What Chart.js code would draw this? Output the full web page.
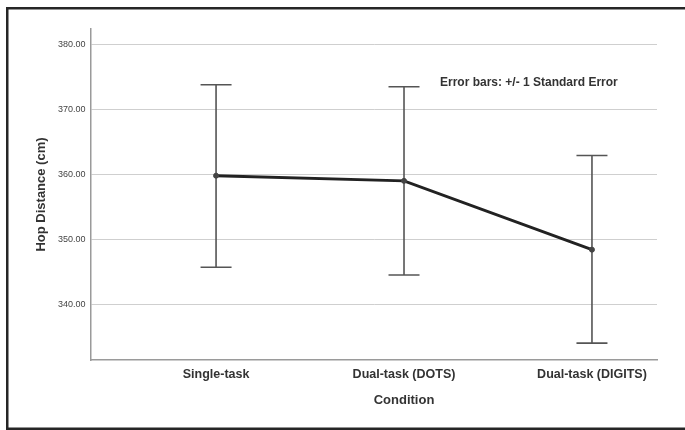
<!DOCTYPE html>
<html>
<head>
<meta charset="utf-8">
<script src="https://cdn.jsdelivr.net/npm/chart.js@4.4.1/dist/chart.umd.min.js"></script>
<style>
  body { margin: 0; background: #fff; }
  #wrap { width: 685px; height: 430px; }
</style>
</head>
<body>
<div id="wrap"><canvas id="hopChart" width="685" height="430"></canvas></div>
<script>
'use strict';

// data
let conditions = ['Single-task', 'Dual-task (DOTS)', 'Dual-task (DIGITS)'];
let meanHop = [359.8, 359.0, 348.4];
let upperSE = [373.8, 373.5, 362.9];
let lowerSE = [345.7, 344.5, 334.0];
let yTicks = [340, 350, 360, 370, 380];

let fontName = '"Liberation Sans", Arial, sans-serif';

// line points as x/y pairs so the x scale can be linear
let points = [];
for (let i = 0; i < meanHop.length; i++) {
    points.push({ x: i, y: meanHop[i] });
}

// error bars, frame and the extra texts
let extras = {
    id: 'extras',
    beforeDatasetsDraw(chart) {
        let ctx = chart.ctx;
        let xs = chart.scales.x;
        let ys = chart.scales.y;
        ctx.save();
        ctx.strokeStyle = '#555';
        ctx.lineWidth = 1.6;
        for (let i = 0; i < conditions.length; i++) {
            let px = xs.getPixelForValue(i);
            let top = ys.getPixelForValue(upperSE[i]);
            let bot = ys.getPixelForValue(lowerSE[i]);
            ctx.beginPath();
            ctx.moveTo(px, top);
            ctx.lineTo(px, bot);
            ctx.moveTo(px - 15.5, top);
            ctx.lineTo(px + 15.5, top);
            ctx.moveTo(px - 15.5, bot);
            ctx.lineTo(px + 15.5, bot);
            ctx.stroke();
        }
        ctx.restore();
    },
    afterDraw(chart) {
        let ctx = chart.ctx;
        let area = chart.chartArea;
        ctx.save();
        // frame (no right side in the original)
        ctx.fillStyle = '#262626';
        ctx.fillRect(6, 7, 679, 2.5);
        ctx.fillRect(6, 7, 2.5, 422);
        ctx.fillRect(6, 427.5, 679, 2.5);

        ctx.fillStyle = '#333';
        ctx.textAlign = 'center';
        ctx.textBaseline = 'middle';
        ctx.font = 'bold 13px ' + fontName;
        ctx.fillText('Condition', chart.scales.x.getPixelForValue(1), 400);

        ctx.save();
        ctx.translate(41, (area.top + area.bottom) / 2);
        ctx.rotate(-Math.PI / 2);
        ctx.fillText('Hop Distance (cm)', 0, 0);
        ctx.restore();

        ctx.textAlign = 'left';
        ctx.font = 'bold 12px ' + fontName;
        ctx.fillText('Error bars: +/- 1 Standard Error', 440, 83);
        ctx.restore();
    }
};

let ctx = document.getElementById('hopChart').getContext('2d');
new Chart(ctx, {
    type: 'line',
    data: {
        datasets: [{
            label: 'Hop Distance',
            data: points,
            borderColor: '#222',
            borderWidth: 3,
            pointRadius: 2.5,
            pointBorderWidth: 1,
            pointBackgroundColor: '#444',
            pointBorderColor: '#444',
            tension: 0
        }]
    },
    options: {
        responsive: false,
        animation: false,
        layout: { padding: { top: 29, right: 28, left: 0, bottom: 0 } },
        plugins: {
            legend: { display: false },
            tooltip: { enabled: false }
        },
        scales: {
            x: {
                type: 'linear',
                min: -0.668,
                max: 2.346,
                afterBuildTicks(scale) {
                    scale.ticks = conditions.map((c, i) => ({ value: i }));
                },
                afterFit(scale) {
                    scale.height = 70;
                },
                grid: { display: false, drawTicks: false },
                border: { color: '#9a9a9a', width: 1.5 },
                ticks: {
                    padding: 7,
                    color: '#333',
                    font: { family: fontName, size: 12.5, weight: 'bold' },
                    callback: (v) => conditions[v]
                }
            },
            y: {
                min: 331.4,
                max: 382.4,
                afterBuildTicks(scale) {
                    scale.ticks = yTicks.map((v) => ({ value: v }));
                },
                afterFit(scale) {
                    scale.width = 90.5;
                },
                grid: { color: '#cfcfcf', lineWidth: 1, drawTicks: false },
                border: { color: '#9a9a9a', width: 1.5 },
                ticks: {
                    padding: 5,
                    color: '#444',
                    font: { family: fontName, size: 9 },
                    callback: (v) => v.toFixed(2)
                }
            }
        }
    },
    plugins: [extras]
});
</script>
</body>
</html>
